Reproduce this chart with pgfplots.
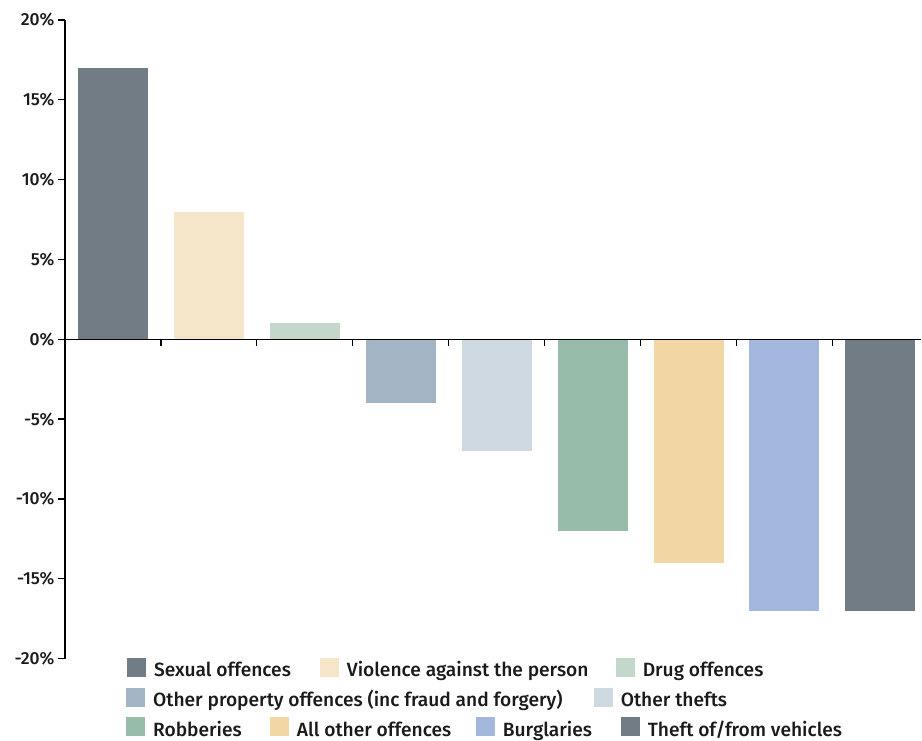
\documentclass[border=0pt]{standalone}
\usepackage{fontspec}
\setmainfont{Fira Sans}[UprightFont={* Medium}]
\usepackage{pgfplots}
\pgfplotsset{compat=1.18}
\definecolor{c1}{HTML}{727C85}
\definecolor{c2}{HTML}{F6E6C9}
\definecolor{c3}{HTML}{C3D8CB}
\definecolor{c4}{HTML}{A3B4C5}
\definecolor{c5}{HTML}{CFD9E2}
\definecolor{c6}{HTML}{97BCA9}
\definecolor{c7}{HTML}{F2D7A5}
\definecolor{c8}{HTML}{A4B7DC}
\definecolor{c9}{HTML}{727C85}
\definecolor{txt}{HTML}{1A1A1A}
\newcommand{\legitem}[4]{%
  \fill[#3] (#1pt,#2pt) rectangle ++(19pt,19pt);
  \node[anchor=base west, inner sep=0pt, text=txt, font=\fontsize{19.2}{22}\selectfont] at (#1pt+27pt,#2pt+0.3pt) {#4};
}
\begin{document}
\begin{tikzpicture}
\path (0,0) rectangle (922pt,740pt);
\begin{axis}[
  at={(65pt,81pt)}, anchor=south west,
  scale only axis, width=857pt, height=639pt,
  xmin=-0.5, xmax=8.427, ymin=-20, ymax=20,
  axis y line*=left, axis x line=none,
  axis line style={black, line width=1.3pt},
  ytick={-20,-15,-10,-5,0,5,10,15,20},
  yticklabels={-20\%,-15\%,-10\%,-5\%,0\%,5\%,10\%,15\%,20\%},
  tick align=outside, major tick length=7pt,
  tick style={black, line width=1.3pt},
  yticklabel style={font=\fontsize{17.5}{20}\selectfont, text=txt},
  minor tick num=0,
  clip=false,
]
\addplot[ybar, bar width=70pt, bar shift=0pt, fill=c1, draw=none] coordinates {(0,17)};
\addplot[ybar, bar width=70pt, bar shift=0pt, fill=c2, draw=none] coordinates {(1,8)};
\addplot[ybar, bar width=70pt, bar shift=0pt, fill=c3, draw=none] coordinates {(2,1)};
\addplot[ybar, bar width=70pt, bar shift=0pt, fill=c4, draw=none] coordinates {(3,-4)};
\addplot[ybar, bar width=70pt, bar shift=0pt, fill=c5, draw=none] coordinates {(4,-7)};
\addplot[ybar, bar width=70pt, bar shift=0pt, fill=c6, draw=none] coordinates {(5,-12)};
\addplot[ybar, bar width=70pt, bar shift=0pt, fill=c7, draw=none] coordinates {(6,-14)};
\addplot[ybar, bar width=70pt, bar shift=0pt, fill=c8, draw=none] coordinates {(7,-17)};
\addplot[ybar, bar width=70pt, bar shift=0pt, fill=c9, draw=none] coordinates {(8,-17)};
\end{axis}
\begin{axis}[
  at={(65pt,400.5pt)}, anchor=south west,
  scale only axis, width=857pt, height=319.5pt,
  xmin=-0.5, xmax=8.427, ymin=0, ymax=20,
  axis x line*=bottom, axis y line=none,
  axis line style={black, line width=1.3pt},
  xtick={0.5,1.5,2.5,3.5,4.5,5.5,6.5,7.5}, xticklabels={},
  tick align=outside, major tick length=7pt,
  tick style={black, line width=1.3pt},
  minor tick num=0,
]
\end{axis}
\legitem{127}{63}{c1}{Sexual offences}
\legitem{320}{63}{c2}{Violence against the person}
\legitem{616}{63}{c3}{Drug offences}
\legitem{126}{33}{c4}{Other property offences (inc fraud and forgery)}
\legitem{594}{33}{c5}{Other thefts}
\legitem{126}{3}{c6}{Robberies}
\legitem{270}{3}{c7}{All other offences}
\legitem{476}{3}{c8}{Burglaries}
\legitem{621}{3}{c9}{Theft of/from vehicles}
\end{tikzpicture}
\end{document}
